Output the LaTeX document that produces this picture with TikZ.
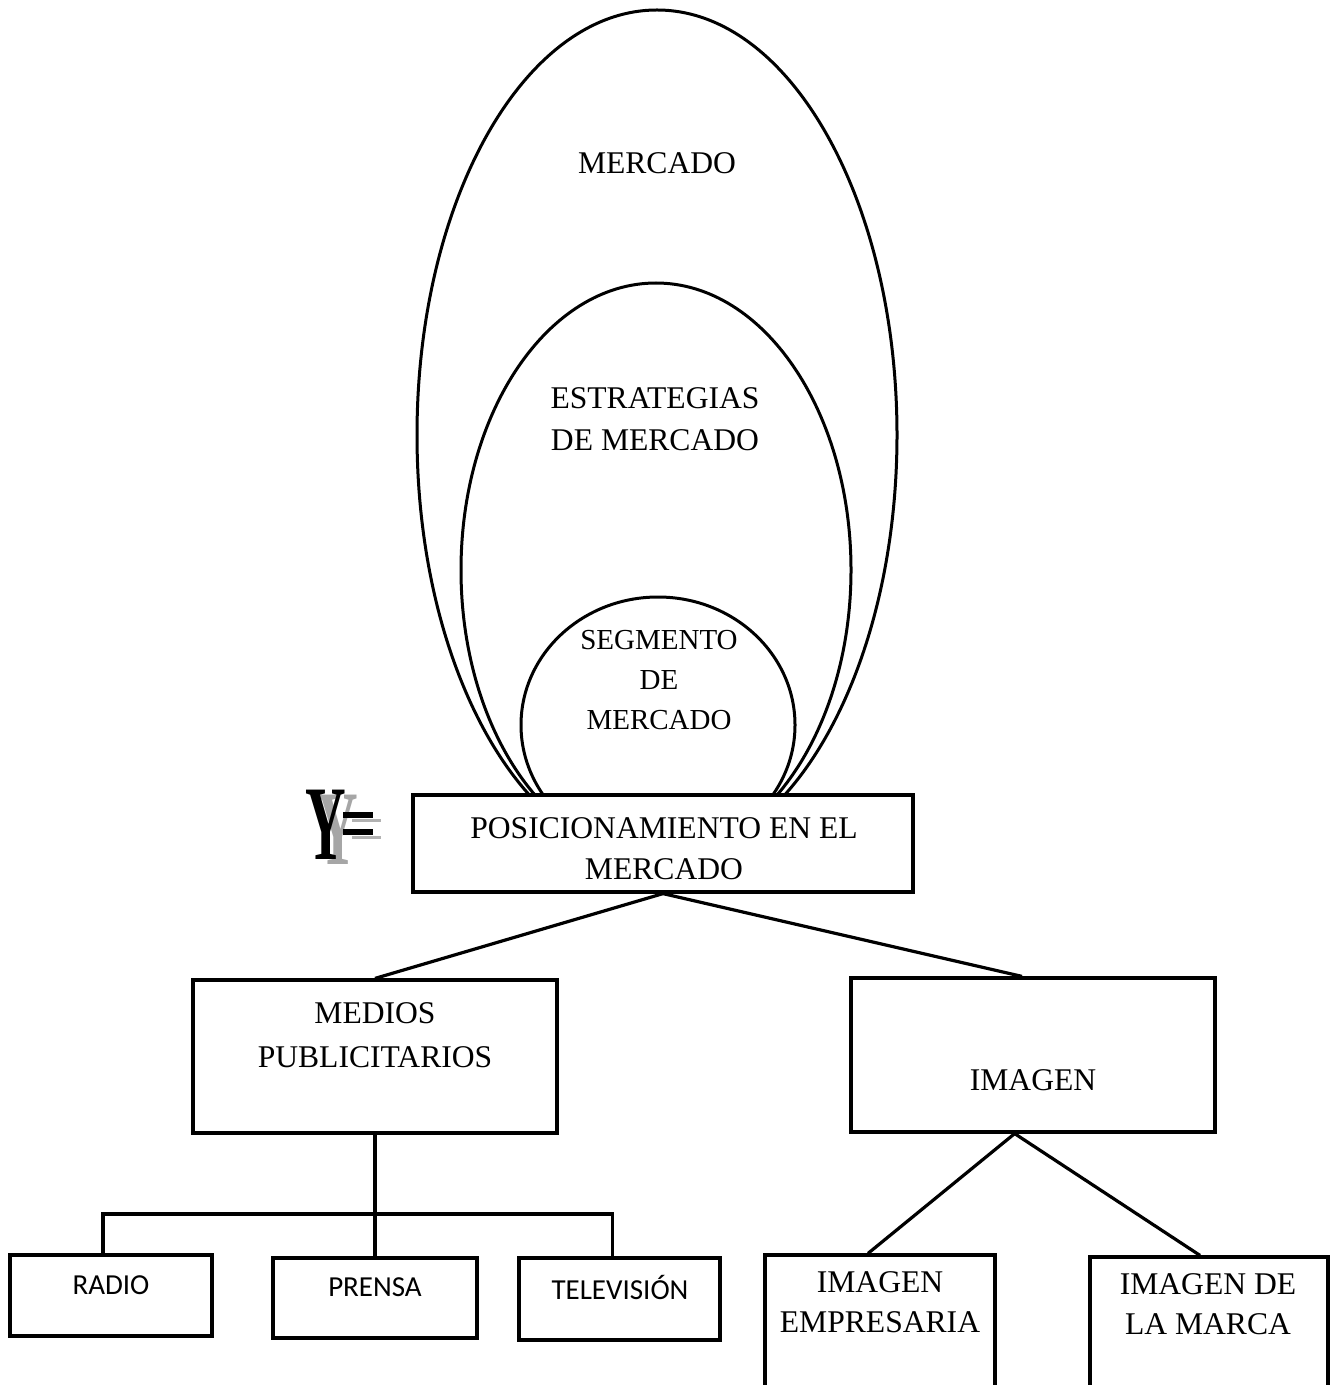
\documentclass[tikz,border=0pt]{standalone}
\usepackage{fontspec}
\setmainfont{Liberation Serif}
\newfontfamily\calib{Carlito}
\usetikzlibrary{shapes.geometric,fit,calc}
\begin{document}
\begin{tikzpicture}[x=0.5pt,y=-0.5pt,
  ln/.style={line width=1.6pt},
  oval/.style={ellipse, draw, line width=1.5pt, inner sep=0pt},
  boxst/.style={draw, line width=1.6pt, fill=white, inner sep=0pt},
  tserif/.style={font=\fontsize{15.8}{21}\selectfont, align=center, inner sep=0pt},
  tsmall/.style={font=\fontsize{14.5}{20}\selectfont, align=center, inner sep=0pt},
  tsans/.style={font=\calib\fontsize{14.5}{18}\selectfont, align=center, inner sep=0pt},
  yfont/.style={font=\fontsize{53}{53}\selectfont\bfseries, inner sep=0pt}
]
\useasboundingbox (0,0) rectangle (1334,1385);
\clip (0,0) rectangle (1334,1385);
\fill[white] (0,0) rectangle (1334,1385);

% nested ovals
\node[oval, minimum width=240pt, minimum height=425pt] (omerc) at (657,435) {};
\node[oval, minimum width=195pt, minimum height=287pt] (oestr) at (656,570) {};
\node[oval, minimum width=137pt, minimum height=128pt] (oseg) at (658,725) {};

\node[tserif] (tmerc) at (657,163) {MERCADO};
\node[tserif] (testr) at (655,419) {ESTRATEGIAS\\DE MERCADO};
\node[tsmall] (tseg) at (659,680) {SEGMENTO\\DE\\MERCADO};

% main box
\node[boxst, fit={(413,795)(913,892)}] (pos) {};
\node[font=\fontsize{15.8}{20.5}\selectfont, align=center, inner sep=0pt] (tpos) at (664,848.5) {POSICIONAMIENTO EN EL\\MERCADO};

% Y= (black letter with a grey shadow behind it)
\fill[black!30] (352,819) rectangle (381,822);
\fill[black!30] (352,836) rectangle (381,839);
\node[yfont] (ysym) at (326,827) {\makebox[0pt][l]{\hspace{6pt}\raisebox{-2.5pt}{\color{black!35}\scalebox{0.53}[1]{Y}}}\scalebox{0.53}[1]{Y}};
\fill[black] (343,812) rectangle (373,818);
\fill[black] (343,829) rectangle (373,835);

% second level
\node[boxst, fit={(193,980)(557,1133)}] (med) {};
\node[font=\fontsize{15.8}{22}\selectfont, align=center, inner sep=0pt] (tmed) at (375,1035) {MEDIOS\\PUBLICITARIOS};
\node[boxst, fit={(851,978)(1215,1132)}] (img) {};
\node[tserif] (timg) at (1033,1080) {IMAGEN};

\draw[ln] (pos.south) -- (med.north);
\draw[ln] (pos.south) -- ($(img.north west)!0.47!(img.north east)$);

% third level left
\node[boxst, fit={(10,1255)(212,1336)}] (radio) {};
\node[tsans] (tradio) at (111,1285) {RADIO};
\node[boxst, fit={(273,1258)(477,1338)}] (prensa) {};
\node[tsans] (tprensa) at (375,1287) {PRENSA};
\node[boxst, fit={(519,1258)(720,1340)}] (tv) {};
\node[tsans] (ttv) at (620,1287) {TELEVISIÓN};

\coordinate (bus) at (374,1214);
\draw[ln] (med.south) -- (prensa.north);
\draw[ln] ($(radio.north)+(-8,0)$) |- (bus) -| ($(tv.north)+(-7,0)$);

% third level right
\node[boxst, fit={(765,1255)(995,1400)}] (emp) {};
\node[tserif, font=\fontsize{15.8}{20}\selectfont] (temp) at (880,1302) {IMAGEN\\EMPRESARIA};
\node[boxst, fit={(1090,1257)(1328,1400)}] (marca) {};
\node[tserif, font=\fontsize{15.8}{20}\selectfont] (tmarca) at (1208,1304.5) {IMAGEN DE\\LA MARCA};

\coordinate (ia) at ($(img.south west)!0.45!(img.south east)$);
\draw[ln] (ia) -- ($(emp.north)+(-12,0)$);
\draw[ln] (ia) -- ($(marca.north)+(-9,0)$);
\end{tikzpicture}
\end{document}
